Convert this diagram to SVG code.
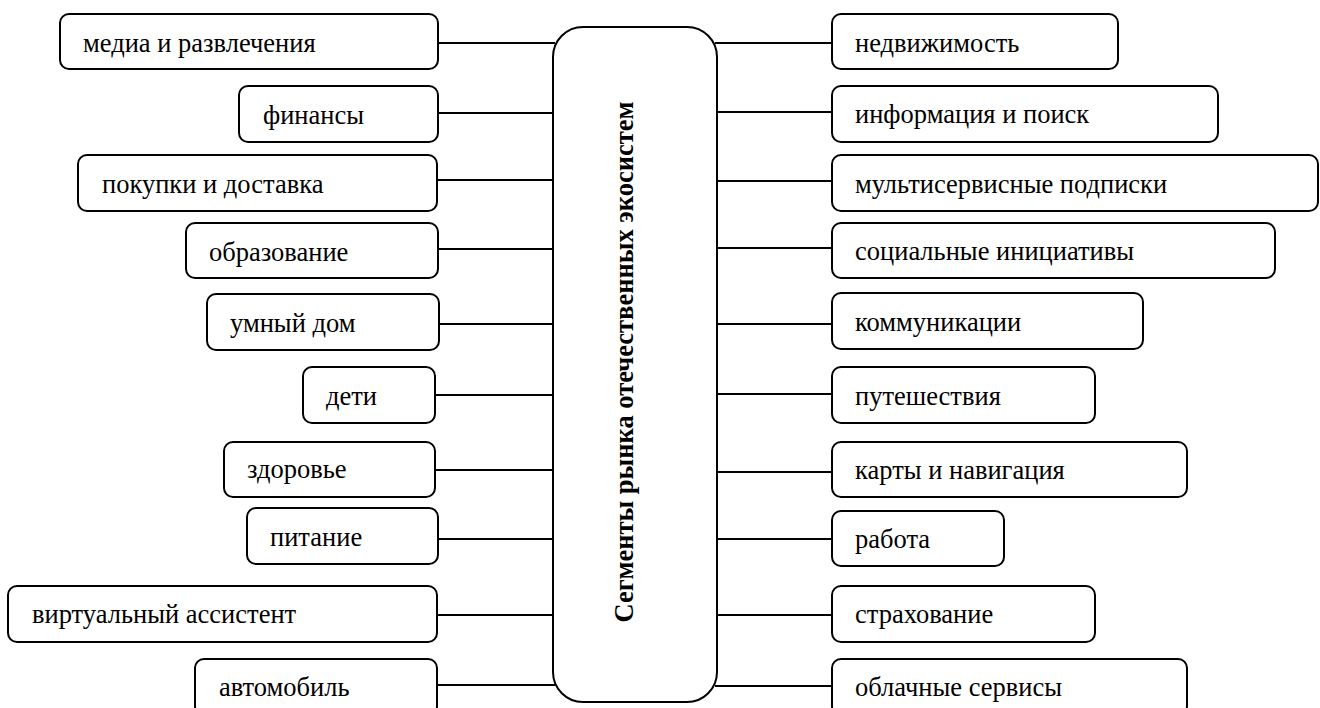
<svg xmlns="http://www.w3.org/2000/svg" width="1320" height="708" viewBox="0 0 1320 708">
<style>
.box{fill:#fff;stroke:#000;stroke-width:2}
.lbl{font-family:"Liberation Serif","Times New Roman",serif;font-size:26.5px;fill:#000}
.ttl{font-family:"Liberation Serif","Times New Roman",serif;font-size:26.5px;font-weight:bold;fill:#000}
.con line{stroke:#000;stroke-width:2}
</style>
<rect width="1320" height="708" fill="#fff"/>
<g class="con">
<line x1="438" y1="43" x2="555" y2="43"/>
<line x1="438" y1="113" x2="553" y2="113"/>
<line x1="437" y1="180" x2="553" y2="180"/>
<line x1="438" y1="249" x2="553" y2="249"/>
<line x1="439" y1="324" x2="553" y2="324"/>
<line x1="435" y1="395" x2="553" y2="395"/>
<line x1="435" y1="470" x2="553" y2="470"/>
<line x1="438" y1="539" x2="553" y2="539"/>
<line x1="437" y1="615" x2="553" y2="615"/>
<line x1="437" y1="685" x2="555" y2="685"/>
<line x1="715" y1="43" x2="832" y2="43"/>
<line x1="717" y1="112" x2="832" y2="112"/>
<line x1="717" y1="181" x2="832" y2="181"/>
<line x1="717" y1="248" x2="832" y2="248"/>
<line x1="717" y1="324" x2="832" y2="324"/>
<line x1="717" y1="394" x2="832" y2="394"/>
<line x1="717" y1="472" x2="832" y2="472"/>
<line x1="717" y1="539" x2="832" y2="539"/>
<line x1="717" y1="615" x2="832" y2="615"/>
<line x1="715" y1="686" x2="832" y2="686"/>
</g>
<g id="center">
<rect class="box" x="553" y="27" width="164" height="675" rx="30"/>
<text class="ttl" transform="translate(633,362) rotate(-90)" text-anchor="middle">Сегменты рынка отечественных экосистем</text>
</g>
<g id="n-media"><rect class="box" x="60" y="14" width="378" height="55" rx="9"/><text class="lbl" x="83" y="52">медиа и развлечения</text></g>
<g id="n-fin"><rect class="box" x="239" y="86" width="199" height="56" rx="9"/><text class="lbl" x="263" y="124">финансы</text></g>
<g id="n-shop"><rect class="box" x="78" y="155" width="359" height="56" rx="9"/><text class="lbl" x="102" y="193">покупки и доставка</text></g>
<g id="n-edu"><rect class="box" x="186" y="223" width="252" height="55" rx="9"/><text class="lbl" x="209" y="261">образование</text></g>
<g id="n-home"><rect class="box" x="207" y="294" width="232" height="56" rx="9"/><text class="lbl" x="230" y="332">умный дом</text></g>
<g id="n-kids"><rect class="box" x="303" y="367" width="132" height="56" rx="9"/><text class="lbl" x="326" y="405">дети</text></g>
<g id="n-health"><rect class="box" x="224" y="442" width="211" height="55" rx="9"/><text class="lbl" x="247" y="478">здоровье</text></g>
<g id="n-food"><rect class="box" x="247" y="508" width="191" height="56" rx="9"/><text class="lbl" x="270" y="546">питание</text></g>
<g id="n-assist"><rect class="box" x="8" y="586" width="429" height="56" rx="9"/><text class="lbl" x="32" y="623">виртуальный ассистент</text></g>
<g id="n-auto"><rect class="box" x="195" y="659" width="242" height="56" rx="9"/><text class="lbl" x="219" y="696">автомобиль</text></g>
<g id="n-estate"><rect class="box" x="832" y="14" width="286" height="55" rx="9"/><text class="lbl" x="855" y="52">недвижимость</text></g>
<g id="n-info"><rect class="box" x="832" y="86" width="386" height="56" rx="9"/><text class="lbl" x="855" y="123">информация и поиск</text></g>
<g id="n-multi"><rect class="box" x="832" y="155" width="486" height="56" rx="9"/><text class="lbl" x="855" y="193">мультисервисные подписки</text></g>
<g id="n-social"><rect class="box" x="832" y="223" width="443" height="55" rx="9"/><text class="lbl" x="855" y="260">социальные инициативы</text></g>
<g id="n-comm"><rect class="box" x="832" y="293" width="311" height="56" rx="9"/><text class="lbl" x="855" y="331">коммуникации</text></g>
<g id="n-travel"><rect class="box" x="832" y="367" width="263" height="56" rx="9"/><text class="lbl" x="855" y="405">путешествия</text></g>
<g id="n-maps"><rect class="box" x="832" y="442" width="355" height="55" rx="9"/><text class="lbl" x="855" y="479">карты и навигация</text></g>
<g id="n-work"><rect class="box" x="832" y="511" width="172" height="55" rx="9"/><text class="lbl" x="855" y="548">работа</text></g>
<g id="n-ins"><rect class="box" x="832" y="586" width="263" height="56" rx="9"/><text class="lbl" x="855" y="623">страхование</text></g>
<g id="n-cloud"><rect class="box" x="832" y="659" width="355" height="56" rx="9"/><text class="lbl" x="855" y="696">облачные сервисы</text></g>
</svg>
